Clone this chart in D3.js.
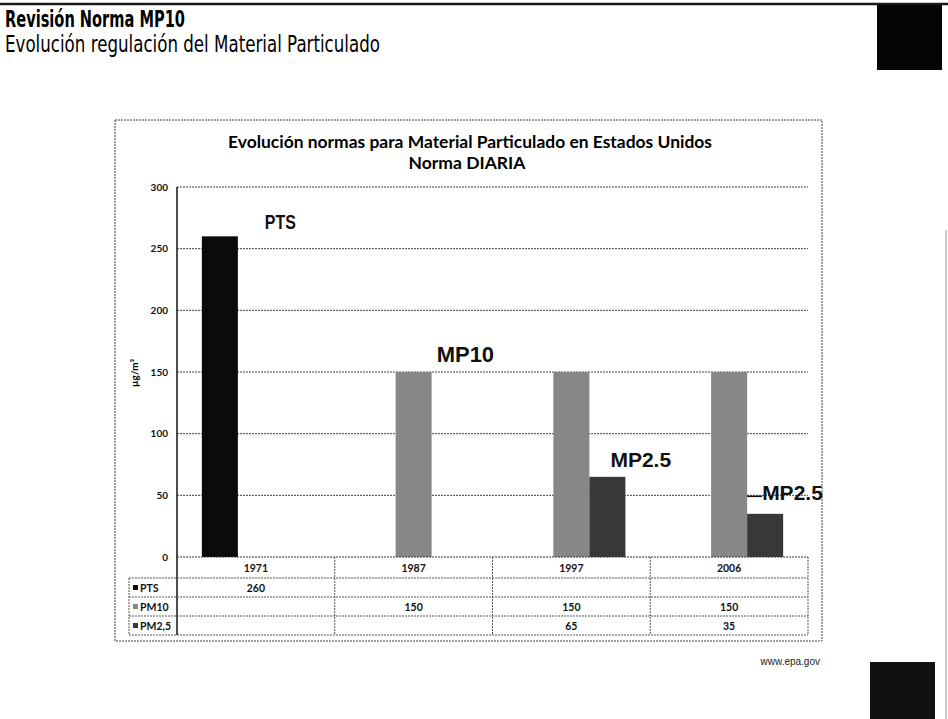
<!DOCTYPE html>
<html>
<head>
<meta charset="utf-8">
<script src="https://cdn.jsdelivr.net/npm/d3@7"></script>
<style>
  body { margin: 0; background: #fff; }
  svg { display: block; }
</style>
</head>
<body>
<div id="chart"></div>
<script>
// data
var years = ["1971", "1987", "1997", "2006"];
var seriesNames = ["PTS", "PM10", "PM2,5"];
var ptsValues = [260, null, null, null];
var pm10Values = [null, 150, 150, 150];
var pm25Values = [null, null, 65, 35];
var yTicks = [0, 50, 100, 150, 200, 250, 300];

var width = 948, height = 719;
var colors = { "PTS": "#0b0b0b", "PM10": "#878787", "PM2,5": "#383838" };
var values = { "PTS": ptsValues, "PM10": pm10Values, "PM2,5": pm25Values };

var svg = d3.select("#chart").append("svg")
  .attr("width", width)
  .attr("height", height);

// slide decoration
svg.append("line")
  .attr("x1", 0).attr("x2", width).attr("y1", 4).attr("y2", 4)
  .attr("stroke", "#1a1a1a").attr("stroke-width", 2.5);
svg.append("rect").attr("x", 877).attr("y", 5).attr("width", 65).attr("height", 65).attr("fill", "#050505");
svg.append("rect").attr("x", 870).attr("y", 662).attr("width", 65).attr("height", 57).attr("fill", "#111");
svg.append("line").attr("x1", 946).attr("x2", 946).attr("y1", 230).attr("y2", height)
  .attr("stroke", "#999").attr("stroke-width", 1);

// slide headings (the scan is squeezed sideways, hence textLength)
svg.append("text")
  .attr("x", 5).attr("y", 27)
  .attr("textLength", 180).attr("lengthAdjust", "spacingAndGlyphs")
  .style("font-family", "'DejaVu Sans', sans-serif")
  .style("font-weight", "bold").style("font-size", "23px")
  .text("Revisión Norma MP10");
svg.append("text")
  .attr("x", 5).attr("y", 52)
  .attr("textLength", 375).attr("lengthAdjust", "spacingAndGlyphs")
  .style("font-family", "'DejaVu Sans', sans-serif")
  .style("font-size", "22.5px")
  .text("Evolución regulación del Material Particulado");

// chart frame
svg.append("rect")
  .attr("x", 115).attr("y", 120).attr("width", 707).attr("height", 521)
  .attr("fill", "none").attr("stroke", "#444").attr("stroke-width", 1)
  .attr("stroke-dasharray", "2,1");

var title = svg.append("text")
  .attr("text-anchor", "middle")
  .style("font-family", "Lato, sans-serif")
  .style("font-weight", "bold").style("font-size", "17.5px");
title.append("tspan").attr("x", 470).attr("y", 148)
  .attr("textLength", 484).attr("lengthAdjust", "spacingAndGlyphs")
  .text("Evolución normas para Material Particulado en Estados Unidos");
title.append("tspan").attr("x", 467).attr("y", 169).text("Norma DIARIA");

// scales
var plotLeft = 177, plotRight = 808, plotTop = 187, plotBottom = 557;
var x0 = d3.scaleBand().domain(years).range([plotLeft, plotRight]);
var x1 = d3.scaleBand().domain(seriesNames).range([0, x0.bandwidth()]).paddingOuter(0.69);
var y = d3.scaleLinear().domain([0, 300]).range([plotBottom, plotTop]);

// gridlines
svg.append("g").selectAll("line")
  .data(yTicks.filter(function(d) { return d > 0; }))
  .enter().append("line")
  .attr("x1", plotLeft).attr("x2", plotRight)
  .attr("y1", function(d) { return y(d); })
  .attr("y2", function(d) { return y(d); })
  .attr("stroke", "#444").attr("stroke-width", 1)
  .attr("stroke-dasharray", "2,1");

// y axis
var yAxis = svg.append("g")
  .attr("transform", "translate(" + plotLeft + ",0)")
  .call(d3.axisLeft(y).tickValues(yTicks).tickSize(0).tickPadding(9));
yAxis.select(".domain").remove();
yAxis.selectAll("text")
  .style("font-family", "Lato, sans-serif")
  .style("font-weight", "bold").style("font-size", "10px")
  .attr("fill", "#111");

svg.append("text")
  .attr("transform", "translate(138,373) rotate(-90)")
  .attr("text-anchor", "middle")
  .style("font-family", "Lato, sans-serif")
  .style("font-weight", "bold").style("font-size", "10px")
  .text("µg/m³");

// bars
var barData = [];
years.forEach(function(yr, i) {
  seriesNames.forEach(function(s) {
    if (values[s][i] != null) barData.push({ year: yr, series: s, value: values[s][i] });
  });
});

svg.append("g").selectAll("rect")
  .data(barData)
  .enter().append("rect")
  .attr("x", function(d) { return x0(d.year) + x1(d.series); })
  .attr("y", function(d) { return y(d.value); })
  .attr("width", x1.bandwidth())
  .attr("height", function(d) { return y(0) - y(d.value); })
  .attr("fill", function(d) { return colors[d.series]; });

// axis lines
svg.append("line")
  .attr("x1", plotLeft).attr("x2", plotLeft).attr("y1", plotTop).attr("y2", 635)
  .attr("stroke", "#111").attr("stroke-width", 1.5);
svg.append("line")
  .attr("x1", plotLeft).attr("x2", plotRight).attr("y1", plotBottom).attr("y2", plotBottom)
  .attr("stroke", "#333").attr("stroke-width", 1).attr("stroke-dasharray", "2,1");

// annotations next to the bars
function barRight(yr, s) { return x0(yr) + x1(s) + x1.bandwidth(); }
var annStyle = function(sel, size) {
  sel.style("font-family", "'Liberation Sans', Arial, sans-serif")
    .style("font-weight", "bold").style("font-size", size + "px").attr("fill", "#111");
};
svg.append("text")
  .attr("x", barRight("1971", "PTS") + 27).attr("y", y(ptsValues[0]) - 7)
  .attr("textLength", 31).attr("lengthAdjust", "spacingAndGlyphs")
  .call(annStyle, 21).text("PTS");
svg.append("text")
  .attr("x", barRight("1987", "PM10") + 5).attr("y", y(pm10Values[1]) - 10)
  .call(annStyle, 22).text("MP10");
svg.append("text")
  .attr("x", barRight("1997", "PM2,5") - 15).attr("y", y(pm25Values[2]) - 10)
  .call(annStyle, 21).text("MP2.5");
svg.append("line")
  .attr("x1", barRight("2006", "PM10")).attr("x2", barRight("2006", "PM10") + 15)
  .attr("y1", y(50) + 1).attr("y2", y(50) + 1)
  .attr("stroke", "#111").attr("stroke-width", 1.5);
svg.append("text")
  .attr("x", barRight("2006", "PM10") + 15).attr("y", y(pm25Values[3]) - 14)
  .call(annStyle, 21).text("MP2.5");

// data table under the chart
var tableLeft = 129, rowTop = 578, rowH = 19;
var tbl = svg.append("g")
  .style("font-family", "Lato, sans-serif")
  .style("font-weight", "bold").style("font-size", "10.5px")
  .attr("fill", "#111");

tbl.selectAll(".yr").data(years).enter().append("text")
  .attr("x", function(d) { return x0(d) + x0.bandwidth() / 2; })
  .attr("y", 572)
  .attr("text-anchor", "middle")
  .text(function(d) { return d; });

// horizontal rules
d3.range(4).forEach(function(i) {
  tbl.append("line")
    .attr("x1", tableLeft).attr("x2", plotRight)
    .attr("y1", rowTop + i * rowH).attr("y2", rowTop + i * rowH)
    .attr("stroke", "#555").attr("stroke-width", 1).attr("stroke-dasharray", "2,1");
});
tbl.append("line")
  .attr("x1", tableLeft).attr("x2", tableLeft).attr("y1", rowTop).attr("y2", rowTop + 3 * rowH)
  .attr("stroke", "#555").attr("stroke-dasharray", "2,1");
years.forEach(function(yr) {
  tbl.append("line")
    .attr("x1", x0(yr) + x0.bandwidth()).attr("x2", x0(yr) + x0.bandwidth())
    .attr("y1", plotBottom).attr("y2", rowTop + 3 * rowH)
    .attr("stroke", "#555").attr("stroke-dasharray", "2,1");
});

seriesNames.forEach(function(s, r) {
  var cy = rowTop + r * rowH + rowH / 2;
  tbl.append("rect")
    .attr("x", 133).attr("y", cy - 2.5).attr("width", 5).attr("height", 5)
    .attr("fill", colors[s]);
  tbl.append("text")
    .attr("x", 140).attr("y", cy + 4)
    .text(s);
  values[s].forEach(function(v, i) {
    if (v == null) return;
    tbl.append("text")
      .attr("x", x0(years[i]) + x0.bandwidth() / 2)
      .attr("y", cy + 4)
      .attr("text-anchor", "middle")
      .text(v);
  });
});

svg.append("text")
  .attr("x", 820).attr("y", 665)
  .attr("text-anchor", "end")
  .style("font-family", "'Liberation Sans', Arial, sans-serif")
  .style("font-size", "10px").attr("fill", "#222")
  .text("www.epa.gov");
</script>
</body>
</html>
